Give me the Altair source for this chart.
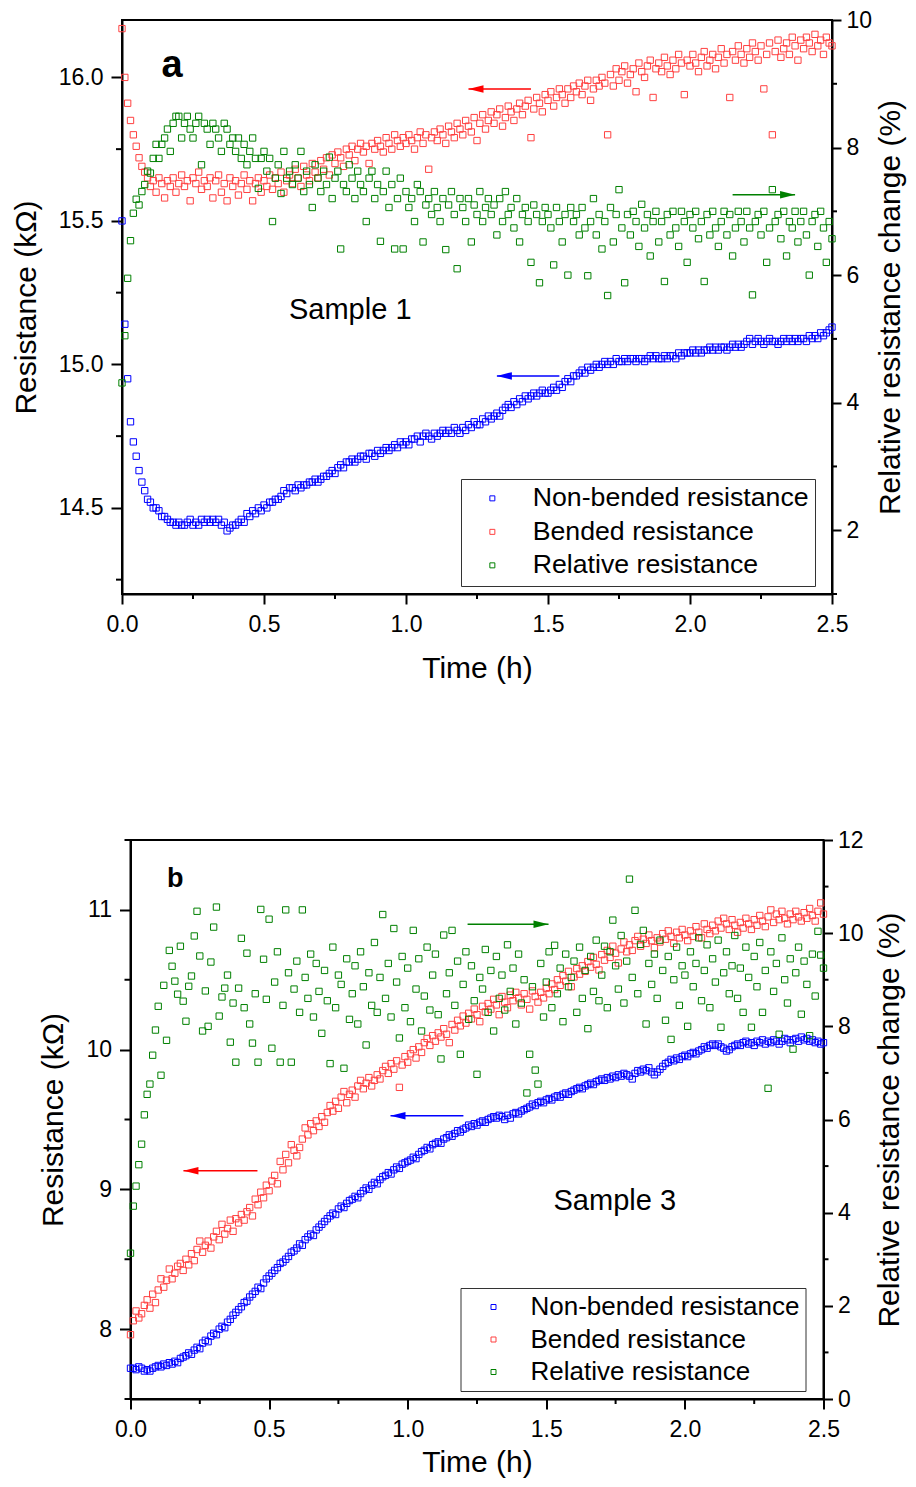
import altair as alt
import pandas as pd

FONT = "Liberation Sans"
SERIES = ["Non-bended resistance", "Bended resistance", "Relative resistance"]
COLORS = ["#0000ff", "#ff4040", "#008000"]

TIME_STEP = 0.01
N_POINTS = 251
TIME = [round(i * TIME_STEP, 2) for i in range(N_POINTS)]

# ---------------- Panel a (Sample 1) ----------------
A_NONBENDED = [
    15.50, 15.14, 14.95, 14.80, 14.73, 14.68, 14.63, 14.59, 14.56, 14.53,
    14.52, 14.50, 14.50, 14.49, 14.47, 14.47, 14.46, 14.45, 14.45, 14.44,
    14.45, 14.44, 14.44, 14.45, 14.46, 14.44, 14.45, 14.44, 14.46, 14.45,
    14.46, 14.45, 14.46, 14.45, 14.46, 14.44, 14.45, 14.42, 14.43, 14.44,
    14.44, 14.45, 14.46, 14.45, 14.48, 14.47, 14.49, 14.48, 14.50, 14.49,
    14.51, 14.50, 14.52, 14.52, 14.53, 14.53, 14.54, 14.56, 14.55, 14.57,
    14.57, 14.56, 14.58, 14.57, 14.58, 14.58, 14.59, 14.59, 14.60, 14.59,
    14.60, 14.61, 14.61, 14.62, 14.63, 14.62, 14.64, 14.65, 14.64, 14.66,
    14.66, 14.67, 14.66, 14.67, 14.68, 14.68, 14.67, 14.69, 14.69, 14.68,
    14.70, 14.69, 14.70, 14.71, 14.70, 14.71, 14.72, 14.71, 14.73, 14.72,
    14.73, 14.72, 14.74, 14.74, 14.75, 14.73, 14.75, 14.76, 14.75, 14.74,
    14.76, 14.75, 14.76, 14.77, 14.76, 14.77, 14.76, 14.78, 14.77, 14.76,
    14.78, 14.77, 14.79, 14.78, 14.80, 14.79, 14.79, 14.81, 14.80, 14.82,
    14.81, 14.82, 14.83, 14.82, 14.84, 14.85, 14.86, 14.85, 14.87, 14.86,
    14.88, 14.87, 14.89, 14.88, 14.89, 14.90, 14.89, 14.90, 14.91, 14.90,
    14.90, 14.91, 14.92, 14.91, 14.93, 14.92, 14.94, 14.95, 14.94, 14.96,
    14.96, 14.97, 14.98, 14.97, 14.99, 14.98, 14.99, 15.00, 14.99, 15.00,
    15.01, 15.00, 15.01, 15.00, 15.02, 15.01, 15.01, 15.02, 15.01, 15.02,
    15.02, 15.01, 15.02, 15.02, 15.01, 15.02, 15.03, 15.02, 15.03, 15.02,
    15.02, 15.03, 15.02, 15.03, 15.03, 15.02, 15.04, 15.03, 15.04, 15.04,
    15.04, 15.05, 15.04, 15.05, 15.04, 15.05, 15.05, 15.06, 15.05, 15.06,
    15.05, 15.06, 15.06, 15.05, 15.06, 15.07, 15.06, 15.07, 15.06, 15.07,
    15.08, 15.09, 15.07, 15.08, 15.09, 15.08, 15.07, 15.08, 15.09, 15.08,
    15.08, 15.07, 15.08, 15.09, 15.08, 15.09, 15.08, 15.09, 15.08, 15.09,
    15.09, 15.08, 15.10, 15.09, 15.10, 15.09, 15.11, 15.10, 15.11, 15.12,
    15.13,
]
A_BENDED = [
    16.17, 16.00, 15.91, 15.85, 15.80, 15.76, 15.72, 15.69, 15.67, 15.65,
    15.62, 15.64, 15.60, 15.65, 15.63, 15.58, 15.64, 15.62, 15.65, 15.60,
    15.63, 15.66, 15.62, 15.64, 15.57, 15.65, 15.63, 15.67, 15.61, 15.64,
    15.62, 15.65, 15.58, 15.64, 15.66, 15.60, 15.63, 15.57, 15.65, 15.62,
    15.64, 15.59, 15.63, 15.66, 15.61, 15.64, 15.57, 15.63, 15.65, 15.60,
    15.64, 15.62, 15.66, 15.61, 15.65, 15.63, 15.67, 15.60, 15.64, 15.66,
    15.63, 15.68, 15.65, 15.62, 15.69, 15.66, 15.64, 15.70, 15.67, 15.65,
    15.71, 15.68, 15.72, 15.66, 15.73, 15.70, 15.74, 15.72, 15.69, 15.75,
    15.73, 15.76, 15.71, 15.75, 15.77, 15.74, 15.76, 15.70, 15.77, 15.75,
    15.78, 15.76, 15.74, 15.79, 15.77, 15.75, 15.80, 15.78, 15.76, 15.79,
    15.77, 15.80, 15.78, 15.75, 15.79, 15.81, 15.77, 15.80, 15.68, 15.79,
    15.81, 15.78, 15.82, 15.80, 15.77, 15.83, 15.81, 15.79, 15.84, 15.82,
    15.80, 15.85, 15.83, 15.81, 15.86, 15.78, 15.84, 15.87, 15.82, 15.85,
    15.88, 15.84, 15.87, 15.89, 15.83, 15.86, 15.90, 15.88, 15.85, 15.89,
    15.91, 15.87, 15.90, 15.92, 15.79, 15.89, 15.93, 15.91, 15.88, 15.94,
    15.92, 15.95, 15.90, 15.93, 15.96, 15.94, 15.91, 15.96, 15.93, 15.97,
    15.95, 15.98, 15.94, 15.97, 15.99, 15.92, 15.96, 15.99, 15.97, 16.00,
    15.98, 15.80, 16.01, 15.97, 16.03, 15.99, 16.02, 16.04, 15.98, 16.01,
    16.03, 15.95, 16.05, 16.02, 16.00, 16.04, 16.06, 15.93, 16.03, 16.05,
    16.02, 16.07, 16.04, 16.01, 16.06, 16.03, 16.08, 16.05, 15.94, 16.06,
    16.04, 16.08, 16.05, 16.02, 16.07, 16.09, 16.04, 16.06, 16.08, 16.03,
    16.07, 16.10, 16.05, 16.08, 15.93, 16.09, 16.06, 16.11, 16.08, 16.05,
    16.10, 16.07, 16.12, 16.09, 16.06, 16.11, 15.96, 16.08, 16.12, 15.80,
    16.09, 16.13, 16.07, 16.10, 16.12, 16.08, 16.14, 16.11, 16.06, 16.13,
    16.10, 16.14, 16.12, 16.09, 16.15, 16.11, 16.13, 16.08, 16.14, 16.12,
    16.11,
]
A_RELATIVE = [
    4.31, 5.05, 5.95, 6.54, 6.97, 7.19, 7.10, 7.31, 7.42, 7.63,
    7.60, 7.83, 8.05, 7.83, 8.05, 8.15, 8.29, 7.94, 8.38, 8.49,
    8.49, 8.15, 8.38, 8.49, 8.29, 8.15, 8.38, 8.49, 7.73, 8.38,
    8.29, 8.05, 8.38, 8.29, 8.15, 7.94, 8.38, 8.29, 8.05, 8.15,
    7.94, 8.15, 7.83, 8.05, 7.73, 7.94, 8.15, 7.83, 7.36, 7.83,
    7.94, 7.63, 7.83, 6.84, 7.52, 7.73, 7.28, 7.94, 7.52, 7.63,
    7.42, 7.73, 7.52, 7.94, 7.31, 7.63, 7.42, 7.06, 7.73, 7.52,
    7.31, 7.63, 7.42, 7.85, 7.20, 7.52, 7.63, 6.41, 7.42, 7.31,
    7.73, 7.52, 7.20, 7.63, 7.42, 7.31, 6.84, 7.52, 7.63, 7.20,
    7.42, 6.53, 7.31, 7.63, 7.06, 7.42, 6.41, 7.20, 7.52, 6.41,
    7.31, 7.06, 7.20, 6.84, 7.42, 7.31, 6.52, 7.10, 7.20, 6.95,
    7.31, 7.06, 6.84, 7.20, 6.40, 7.10, 7.31, 6.95, 6.10, 7.20,
    7.06, 6.84, 7.20, 6.52, 7.10, 6.95, 7.31, 6.84, 7.06, 7.20,
    6.95, 7.10, 6.63, 7.20, 6.84, 7.31, 6.95, 7.06, 6.74, 7.20,
    6.52, 6.95, 7.06, 6.84, 6.20, 7.10, 6.95, 5.88, 6.84, 7.06,
    6.95, 6.74, 6.16, 7.06, 6.84, 6.52, 6.95, 6.00, 7.06, 6.84,
    6.95, 6.63, 7.06, 6.74, 5.99, 6.84, 7.20, 6.63, 6.95, 6.41,
    6.84, 5.68, 7.06, 6.52, 6.95, 7.34, 6.74, 5.88, 6.95, 6.63,
    7.00, 6.84, 6.45, 7.11, 6.74, 6.95, 6.30, 6.84, 7.00, 6.52,
    6.84, 5.90, 6.95, 6.63, 7.00, 6.74, 6.45, 7.00, 6.84, 6.20,
    6.95, 6.74, 7.00, 6.57, 6.84, 5.90, 6.95, 6.63, 7.00, 6.74,
    6.45, 6.84, 7.00, 6.63, 6.95, 6.30, 6.74, 7.00, 6.84, 6.52,
    7.00, 6.74, 5.69, 6.84, 6.95, 6.63, 7.00, 6.20, 6.74, 7.34,
    6.84, 6.95, 6.57, 7.00, 6.30, 6.84, 6.74, 7.00, 6.52, 6.84,
    7.00, 6.63, 6.00, 6.84, 6.95, 6.45, 7.00, 6.74, 6.20, 6.84,
    6.57,
]

# ---------------- Panel b (Sample 3) ----------------
B_NONBENDED = [
    7.72, 7.72, 7.71, 7.73, 7.72, 7.70, 7.71, 7.70, 7.72, 7.73,
    7.74, 7.73, 7.75, 7.74, 7.76, 7.75, 7.77, 7.76, 7.79, 7.80,
    7.81, 7.83, 7.82, 7.85, 7.87, 7.86, 7.90, 7.92, 7.91, 7.95,
    7.97, 7.96, 8.00, 8.02, 8.01, 8.05, 8.07, 8.10, 8.12, 8.14,
    8.16, 8.19, 8.20, 8.23, 8.25, 8.27, 8.30, 8.29, 8.33, 8.36,
    8.38, 8.40, 8.42, 8.44, 8.47, 8.48, 8.50, 8.52, 8.55, 8.56,
    8.58, 8.61, 8.60, 8.64, 8.66, 8.68, 8.67, 8.71, 8.73, 8.75,
    8.77, 8.79, 8.81, 8.83, 8.82, 8.86, 8.88, 8.87, 8.90, 8.92,
    8.93, 8.95, 8.94, 8.97, 8.99, 9.01, 9.00, 9.03, 9.05, 9.04,
    9.07, 9.09, 9.10, 9.12, 9.11, 9.14, 9.16, 9.15, 9.18, 9.19,
    9.20, 9.21, 9.23, 9.22, 9.25, 9.27, 9.28, 9.30, 9.29, 9.32,
    9.33, 9.34, 9.33, 9.36, 9.37, 9.39, 9.38, 9.40, 9.42, 9.41,
    9.43, 9.44, 9.46, 9.45, 9.47, 9.46, 9.48, 9.49, 9.48, 9.50,
    9.51, 9.52, 9.51, 9.53, 9.52, 9.50, 9.53, 9.51, 9.54, 9.55,
    9.54, 9.56, 9.57, 9.58, 9.59, 9.61, 9.60, 9.62, 9.63, 9.62,
    9.64, 9.65, 9.64, 9.66, 9.67, 9.66, 9.68, 9.69, 9.68, 9.70,
    9.71, 9.72, 9.73, 9.72, 9.74, 9.75, 9.76, 9.75, 9.77, 9.78,
    9.79, 9.78, 9.80, 9.79, 9.81, 9.80, 9.82, 9.81, 9.83, 9.82,
    9.81, 9.79, 9.83, 9.85, 9.84, 9.86, 9.85, 9.87, 9.84, 9.82,
    9.84, 9.86, 9.88, 9.90, 9.91, 9.93, 9.92, 9.94, 9.93, 9.95,
    9.96, 9.95, 9.97, 9.98, 9.97, 9.99, 10.00, 10.02, 10.01, 10.03,
    10.04, 10.03, 10.04, 10.02, 10.01, 9.99, 10.00, 10.02, 10.03, 10.04,
    10.03, 10.05, 10.06, 10.04, 10.05, 10.03, 10.06, 10.05, 10.07, 10.04,
    10.06, 10.05, 10.07, 10.06, 10.04, 10.06, 10.08, 10.07, 10.05, 10.07,
    10.08, 10.06, 10.09, 10.07, 10.08, 10.06, 10.07, 10.05, 10.06, 10.04,
    10.05,
]
B_BENDED = [
    7.96, 8.06, 8.13, 8.08, 8.11, 8.17, 8.21, 8.15, 8.25, 8.19,
    8.28, 8.36, 8.30, 8.35, 8.43, 8.36, 8.40, 8.45, 8.47, 8.42,
    8.50, 8.46, 8.54, 8.49, 8.57, 8.63, 8.55, 8.60, 8.63, 8.58,
    8.66, 8.70, 8.64, 8.75, 8.68, 8.72, 8.78, 8.70, 8.79, 8.76,
    8.82, 8.78, 8.84, 8.87, 8.81, 8.93, 8.89, 8.98, 8.94, 9.03,
    8.99, 9.06, 9.10, 9.04, 9.20, 9.14, 9.25, 9.19, 9.32, 9.28,
    9.24, 9.30, 9.36, 9.44, 9.39, 9.47, 9.42, 9.49, 9.45, 9.52,
    9.48, 9.55, 9.60, 9.56, 9.63, 9.58, 9.66, 9.70, 9.62, 9.68,
    9.71, 9.66, 9.74, 9.78, 9.72, 9.76, 9.80, 9.74, 9.78, 9.82,
    9.79, 9.85, 9.88, 9.83, 9.90, 9.86, 9.92, 9.73, 9.89, 9.95,
    9.91, 9.97, 10.00, 9.94, 10.02, 9.98, 10.05, 10.08, 10.03, 10.10,
    10.06, 10.12, 10.09, 10.15, 10.11, 10.05, 10.18, 10.14, 10.21, 10.17,
    10.24, 10.19, 10.26, 10.22, 10.29, 10.25, 10.20, 10.31, 10.27, 10.33,
    10.29, 10.36, 10.32, 10.25, 10.38, 10.34, 10.30, 10.39, 10.35, 10.41,
    10.37, 10.32, 10.40, 10.36, 10.29, 10.42, 10.38, 10.34, 10.41, 10.37,
    10.44, 10.40, 10.47, 10.43, 10.50, 10.46, 10.53, 10.49, 10.56, 10.45,
    10.52, 10.58, 10.54, 10.60, 10.56, 10.63, 10.59, 10.66, 10.61, 10.57,
    10.68, 10.64, 10.71, 10.66, 10.74, 10.69, 10.62, 10.72, 10.77, 10.70,
    10.75, 10.71, 10.78, 10.81, 10.74, 10.79, 10.76, 10.82, 10.78, 10.73,
    10.80, 10.77, 10.83, 10.79, 10.85, 10.81, 10.76, 10.84, 10.80, 10.86,
    10.82, 10.78, 10.85, 10.81, 10.88, 10.84, 10.80, 10.90, 10.86, 10.83,
    10.89, 10.85, 10.92, 10.87, 10.94, 10.90, 10.86, 10.93, 10.89, 10.84,
    10.91, 10.87, 10.94, 10.90, 10.86, 10.93, 10.89, 10.96, 10.92, 10.88,
    10.95, 11.00, 10.91, 10.97, 10.93, 10.99, 10.94, 10.90, 10.97, 10.93,
    10.99, 10.95, 10.92, 10.98, 10.94, 11.01, 10.96, 10.92, 10.99, 11.05,
    10.97,
]
B_RELATIVE = [
    3.13, 4.14, 4.57, 5.03, 5.47, 6.10, 6.54, 6.76, 7.38, 7.92,
    8.43, 6.95, 8.88, 7.70, 9.63, 9.29, 8.97, 8.69, 9.72, 8.54,
    8.11, 8.86, 9.08, 9.94, 10.47, 9.51, 7.90, 8.76, 8.00, 9.38,
    10.13, 10.56, 8.22, 8.63, 8.82, 9.10, 7.66, 8.50, 7.23, 8.82,
    9.89, 8.40, 9.57, 8.05, 7.64, 8.70, 7.23, 10.51, 9.44, 8.58,
    10.30, 7.53, 8.95, 9.60, 7.23, 8.45, 10.50, 9.15, 7.23, 8.80,
    9.40, 8.30, 10.50, 9.05, 8.60, 9.55, 8.20, 9.35, 8.75, 7.85,
    9.20, 8.55, 7.20, 9.70, 8.40, 9.10, 8.90, 7.10, 9.45, 8.15,
    8.70, 9.30, 8.05, 9.60, 8.85, 7.60, 9.15, 8.45, 9.80, 8.30,
    9.05, 10.40, 8.60, 9.35, 8.20, 10.10, 8.95, 7.75, 9.50, 8.40,
    9.25, 8.10, 10.06, 8.80, 9.45, 7.90, 8.65, 9.70, 8.35, 9.10,
    9.55, 8.25, 7.30, 9.96, 8.70, 9.15, 10.06, 8.45, 9.40, 7.40,
    8.90, 9.60, 8.15, 9.30, 8.55, 6.97, 9.05, 8.80, 9.65, 8.30,
    9.20, 7.90, 9.50, 8.60, 9.10, 8.35, 9.75, 8.75, 9.25, 8.05,
    9.55, 8.50, 9.00, 6.57, 7.40, 8.85, 7.06, 6.76, 9.35, 8.20,
    8.95, 9.60, 8.40, 9.74, 8.70, 9.25, 8.10, 9.55, 8.85, 9.05,
    9.40, 8.30, 9.70, 8.60, 9.20, 7.95, 9.50, 8.75, 9.85, 8.55,
    9.10, 9.72, 8.40, 9.60, 10.28, 9.30, 8.80, 9.95, 8.50, 9.40,
    11.16, 9.05, 10.49, 8.70, 9.76, 10.06, 8.05, 9.35, 8.90, 9.55,
    8.60, 9.85, 9.20, 8.13, 9.50, 7.72, 9.00, 9.70, 8.45, 9.30,
    9.10, 8.00, 9.60, 8.85, 9.35, 9.90, 8.55, 9.20, 9.75, 8.40,
    9.45, 8.95, 9.85, 7.98, 9.15, 9.60, 8.70, 9.30, 9.95, 8.60,
    9.25, 8.30, 9.70, 9.05, 7.98, 9.50, 8.85, 9.80, 8.30, 9.20,
    6.67, 9.60, 8.75, 9.35, 7.83, 9.90, 9.00, 8.50, 9.45, 7.51,
    9.15, 9.70, 8.26, 9.40, 8.90, 7.80, 9.55, 8.65, 10.04, 9.53,
    9.25,
]

# ---------------- Axes ----------------
X_TICKS = [0.0, 0.5, 1.0, 1.5, 2.0, 2.5]
X_MINOR = [0.25, 0.75, 1.25, 1.75, 2.25]
A_LEFT_TICKS = [14.5, 15.0, 15.5, 16.0]
A_LEFT_MINOR = [14.25, 14.75, 15.25, 15.75]
A_RIGHT_TICKS = [2, 4, 6, 8, 10]
A_RIGHT_MINOR = [1, 3, 5, 7, 9]
B_LEFT_TICKS = [8, 9, 10, 11]
B_LEFT_MINOR = [7.5, 8.5, 9.5, 10.5, 11.5]
B_RIGHT_TICKS = [0, 2, 4, 6, 8, 10, 12]
B_RIGHT_MINOR = [1, 3, 5, 7, 9, 11]

# annotations: (tail time, tip time, value, axis side, colour)
A_ARROWS = [(1.44, 1.22, 15.96, "left", "#ff0000"),
            (1.54, 1.32, 14.96, "left", "#0000ff"),
            (2.15, 2.37, 7.26, "right", "#008000")]
B_ARROWS = [(0.458, 0.191, 9.134, "left", "#ff0000"),
            (1.201, 0.938, 9.527, "left", "#0000ff"),
            (1.216, 1.508, 10.19, "right", "#008000")]
# texts: (label, time, value, size, weight, align)
A_TEXTS = [("a", 0.176, 16.0, 38, "bold", "center"),
           ("Sample 1", 0.588, 15.157, 29, "normal", "left")]
B_TEXTS = [("b", 0.161, 11.167, 27, "bold", "center"),
           ("Sample 3", 1.526, 8.855, 29, "normal", "left")]

AXIS_STYLE = dict(
    domainColor="black", domainWidth=2, tickColor="black", tickWidth=2,
    labelFont=FONT, labelFontSize=23, labelColor="black",
    titleFont=FONT, titleFontSize=30, titleFontWeight="normal",
    titleColor="black", grid=False, labelOverlap=False,
)


def panel(nonbended, bended, relative, cfg):
    W, H = cfg["width"], cfg["height"]
    n1, n2, n3 = len(nonbended), len(bended), len(relative)
    left_df = pd.DataFrame({
        "t": TIME[:n1] + TIME[:n2],
        "v": nonbended + bended,
        "series": [SERIES[0]] * n1 + [SERIES[1]] * n2,
    })
    right_df = pd.DataFrame({"t": TIME[:n3], "v": relative,
                             "series": [SERIES[2]] * n3})

    xscale = alt.Scale(domain=[0, 2.5], nice=False, zero=False)
    xaxis = alt.Axis(values=X_TICKS, format=".1f", title="Time (h)",
                     labelFlush=False, tickSize=10, labelPadding=9,
                     titlePadding=cfg["x_title_pad"], **AXIS_STYLE)
    lscale = alt.Scale(domain=cfg["left_domain"], nice=False, zero=False)
    laxis = alt.Axis(orient="left", values=cfg["left_ticks"],
                     format=cfg["left_format"], title="Resistance (kΩ)",
                     tickSize=11, labelPadding=8,
                     titlePadding=cfg["left_title_pad"], **AXIS_STYLE)
    rscale = alt.Scale(domain=cfg["right_domain"], nice=False, zero=False)
    raxis = alt.Axis(orient="right", values=cfg["right_ticks"], format="d",
                     title="Relative resistance change (%)",
                     titleAngle=270, titleBaseline="top",
                     tickSize=9, labelPadding=5,
                     titlePadding=cfg["right_title_pad"], **AXIS_STYLE)

    legend = alt.Legend(
        orient="none", legendX=cfg["legend_x"], legendY=cfg["legend_y"],
        title=None, direction="vertical", labelFont=FONT,
        labelFontSize=cfg["legend_font"], labelColor="black", labelLimit=0,
        symbolType="square", symbolSize=25, symbolStrokeWidth=1,
        strokeColor="#333333", fillColor="white", padding=6,
        rowPadding=cfg["legend_row_pad"], symbolOffset=cfg["legend_sym_off"],
        labelOffset=cfg["legend_label_off"],
    )
    color = alt.Color("series:N", scale=alt.Scale(domain=SERIES, range=COLORS),
                      legend=legend)
    X = alt.X("t:Q", scale=xscale, axis=xaxis)
    YL = alt.Y("v:Q", scale=lscale, axis=laxis)
    YR = alt.Y("v:Q", scale=rscale, axis=raxis)

    point_mark = dict(shape="square", filled=False, size=40, strokeWidth=1,
                      opacity=1)
    left_pts = alt.Chart(left_df).mark_point(**point_mark).encode(
        x=X, y=YL, color=color)
    right_pts = alt.Chart(right_df).mark_point(**point_mark).encode(
        x=X, y=YR, color=color)

    tick_rule = dict(color="black", strokeWidth=2)
    lminor = alt.Chart(pd.DataFrame({"v": cfg["left_minor"]})).mark_rule(
        **tick_rule).encode(y=YL, x=alt.value(0), x2=alt.value(-6))
    rminor = alt.Chart(pd.DataFrame({"v": cfg["right_minor"]})).mark_rule(
        **tick_rule).encode(y=YR, x=alt.value(W), x2=alt.value(W + 5))
    xminor = alt.Chart(pd.DataFrame({"t": X_MINOR})).mark_rule(
        **tick_rule).encode(x=X, y=alt.value(H), y2=alt.value(H + 5))

    left_layers = [left_pts, lminor, xminor]
    right_layers = [right_pts, rminor]
    for tail, tip, val, side, col in cfg["arrows"]:
        df = pd.DataFrame({"t": [tail], "t2": [tip], "v": [val]})
        Y = YL if side == "left" else YR
        line = alt.Chart(df).mark_rule(color=col, strokeWidth=1.5).encode(
            x=X, x2="t2:Q", y=Y)
        pointing_left = tip < tail
        head = alt.Chart(df).mark_point(
            shape=("M -1 0 L 1 -0.5 L 1 0.5 Z" if pointing_left
                   else "M 1 0 L -1 -0.5 L -1 0.5 Z"),
            filled=True, size=225, color=col, opacity=1, strokeWidth=0,
            xOffset=(7.5 if pointing_left else -7.5),
        ).encode(x=alt.X("t2:Q", scale=xscale, axis=xaxis), y=Y)
        (left_layers if side == "left" else right_layers).extend([line, head])

    for label, tt, vv, size, weight, align in cfg["texts"]:
        df = pd.DataFrame({"t": [tt], "v": [vv], "label": [label]})
        left_layers.append(alt.Chart(df).mark_text(
            font=FONT, fontSize=size, fontWeight=weight, align=align,
            baseline="alphabetic", color="black").encode(
            x=X, y=YL, text="label:N"))

    return alt.layer(alt.layer(*left_layers), alt.layer(*right_layers)) \
        .resolve_scale(y="independent").properties(width=W, height=H)


panel_a = panel(A_NONBENDED, A_BENDED, A_RELATIVE, dict(
    width=710, height=574, left_domain=[14.2, 16.2], left_ticks=A_LEFT_TICKS,
    left_minor=A_LEFT_MINOR, left_format=".1f", right_domain=[1, 10],
    right_ticks=A_RIGHT_TICKS, right_minor=A_RIGHT_MINOR,
    left_title_pad=17, right_title_pad=4, x_title_pad=17,
    legend_x=339, legend_y=459, legend_row_pad=5.5, legend_font=26.7,
    legend_sym_off=12, legend_label_off=27, arrows=A_ARROWS, texts=A_TEXTS))

panel_b = panel(B_NONBENDED, B_BENDED, B_RELATIVE, dict(
    width=693, height=559, left_domain=[7.5, 11.5], left_ticks=B_LEFT_TICKS,
    left_minor=B_LEFT_MINOR, left_format="d", right_domain=[0, 12],
    right_ticks=B_RIGHT_TICKS, right_minor=B_RIGHT_MINOR,
    left_title_pad=17, right_title_pad=11, x_title_pad=6,
    legend_x=330, legend_y=448, legend_row_pad=6.5, legend_font=26,
    legend_sym_off=14, legend_label_off=24, arrows=B_ARROWS, texts=B_TEXTS))

chart = alt.vconcat(panel_a, panel_b, spacing=246, center=True,
                    bounds="flush") \
    .resolve_scale(color="independent") \
    .resolve_legend(color="independent") \
    .properties(padding={"left": 2, "top": 0, "right": 0, "bottom": 0}) \
    .configure(font=FONT) \
    .configure_view(stroke="black", strokeWidth=2)

chart.save("out.html", embed_options={"renderer": "svg", "actions": False})
